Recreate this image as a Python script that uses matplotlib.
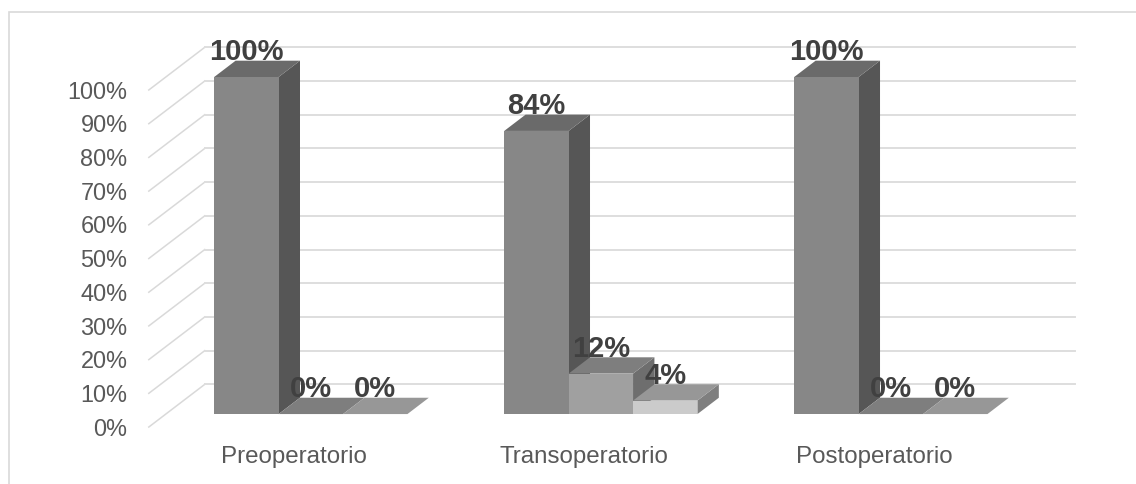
import matplotlib
matplotlib.use("Agg")
import matplotlib.pyplot as plt
from matplotlib.patches import Rectangle

plt.rcParams['font.family'] = ['Liberation Sans', 'DejaVu Sans']

# Datos (porcentajes)
categorias = ["Preoperatorio", "Transoperatorio", "Postoperatorio"]
serie1 = [100, 84, 100]
serie2 = [0, 12, 0]
serie3 = [0, 4, 0]
marcas_y = [0, 10, 20, 30, 40, 50, 60, 70, 80, 90, 100]

# Colores de cada serie: frente, lado, tapa
colores1 = ("#878787", "#565656", "#6a6a6a")
colores2 = ("#a0a0a0", "#6e6e6e", "#7e7e7e")
colores3 = ("#cbcbcb", "#7f7f7f", "#979797")

# Proyeccion oblicua: d=0 plano frontal, d=1 pared del fondo
DX = 0.193   # desplazamiento en x para d=1 (unidades de categoria)
DY = 12.67   # desplazamiento en y para d=1 (puntos porcentuales)
ANCHO = 0.2221
D_INI, D_FIN = 0.304, 0.686


def proy(x, v, d):
    return x + d * DX, v + d * DY


def barra(ax, x0, x1, v, colores):
    frente, lado, tapa = colores
    d0, d1 = D_INI, D_FIN
    # lado derecho
    cara = [proy(x1, 0, d0), proy(x1, v, d0), proy(x1, v, d1), proy(x1, 0, d1)]
    ax.fill(*zip(*cara), color=lado, lw=0, zorder=3)
    # tapa
    cara = [proy(x0, v, d0), proy(x1, v, d0), proy(x1, v, d1), proy(x0, v, d1)]
    ax.fill(*zip(*cara), color=tapa, lw=0, zorder=3)
    # frente
    cara = [proy(x0, 0, d0), proy(x1, 0, d0), proy(x1, v, d0), proy(x0, v, d0)]
    ax.fill(*zip(*cara), color=frente, lw=0, zorder=3)


fig = plt.figure(figsize=(11.36, 4.84), dpi=100)
fig.add_artist(Rectangle((9 / 1136, -10 / 484), 1140 / 1136, (484 - 12 + 10) / 484,
                         transform=fig.transFigure, fill=False,
                         edgecolor="#d9d9d9", linewidth=1.2))

ax = fig.add_axes([0, 0, 1, 1])
ax.set_xlim(-1.0131, 2.904)
ax.set_ylim(-16.9, 126.7)
ax.axis("off")

# Rejilla: lineas del fondo y diagonales de la pared izquierda
for m in marcas_y:
    xa, ya = proy(-0.5, m, 0)
    xb, yb = proy(-0.5, m, 1)
    xc, yc = proy(2.5, m, 1)
    ax.plot([xa, xb], [ya, yb], color="#d9d9d9", lw=1.1, zorder=1)
    ax.plot([xb, xc], [yb, yc], color="#dedede", lw=1.4, zorder=1)
    ax.text(-0.5734, m - 2.55, f"{m}%", ha="right", va="baseline",
            fontsize=16.9, color="#595959", zorder=5)

series = [(serie1, colores1, -1), (serie2, colores2, 0), (serie3, colores3, 1)]

# Barras de izquierda a derecha para que se tapen bien entre si
for i, cat in enumerate(categorias):
    for valores, colores, pos in series:
        centro = i + pos * ANCHO
        barra(ax, centro - ANCHO / 2, centro + ANCHO / 2, valores[i], colores)
    ax.text(i, -10.7, cat, ha="center", va="baseline",
            fontsize=17.4, color="#595959", zorder=5)

# Etiquetas de valor encima de la cara frontal
for i in range(len(categorias)):
    for valores, colores, pos in series:
        xt, yt = proy(i + pos * ANCHO, valores[i], D_INI)
        ax.text(xt, yt + 5.0, f"{valores[i]}%", ha="center", va="baseline",
                fontsize=21, fontweight="bold", color="#404040", zorder=6)

fig.savefig("out.png", dpi=100)
